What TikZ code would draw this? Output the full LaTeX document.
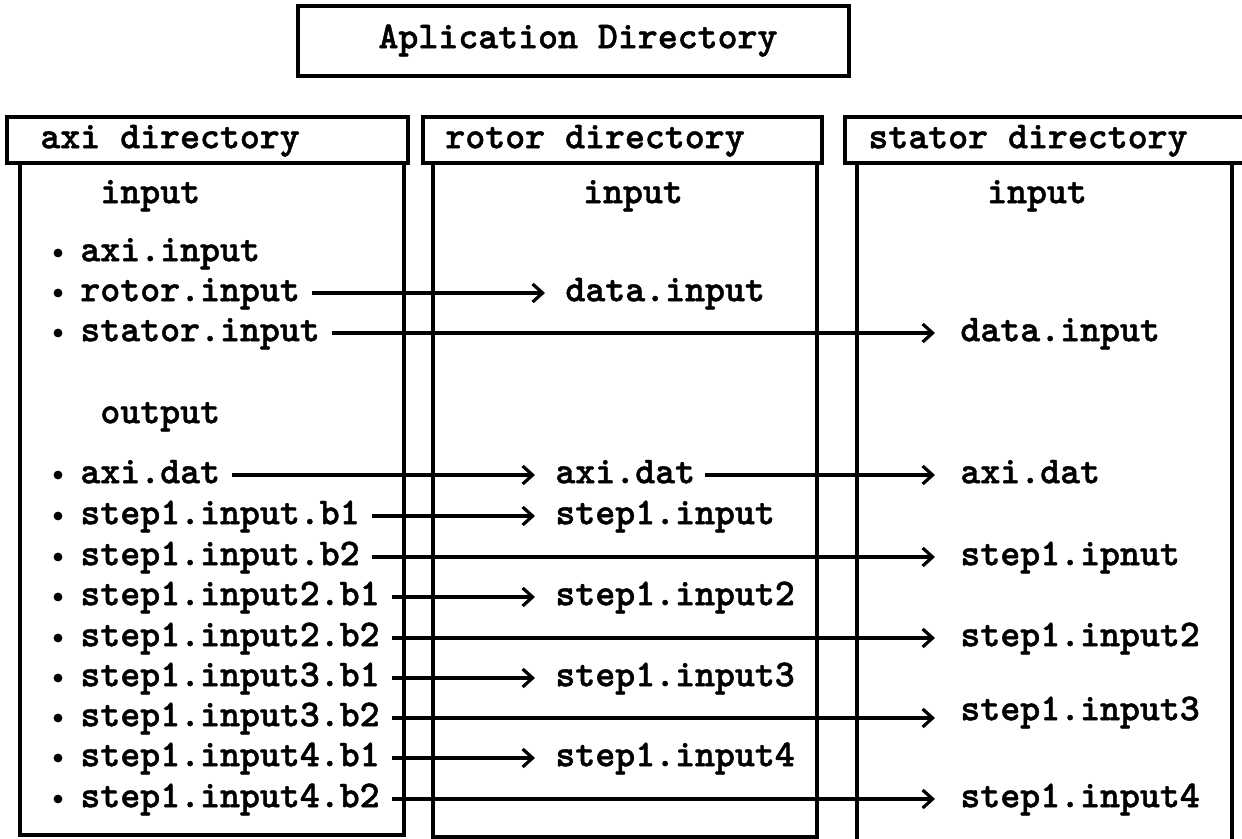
\documentclass[tikz,border=0pt]{standalone}
\usepackage{fontspec}
\newfontfamily\dirfont{lmmonolt10-bold.otf}[FakeBold=1.2]
\usetikzlibrary{arrows.meta}

\tikzset{
  dirbox/.style={line width=1.8pt},
  lbl/.style={anchor=west, inner sep=0pt, text height=8.2pt, text depth=0pt},
  srcitem/.style={lbl, inner xsep=6pt},
  rotitem/.style={lbl, inner xsep=10pt},
  staitem/.style={lbl, inner xsep=12.5pt},
  feed/.style={line width=1.6pt, -{Straight Barb[length=5pt,width=9pt]}}
}

\begin{document}
\begin{tikzpicture}[x=0.5pt,y=-0.5pt,font=\fontsize{19}{22}\selectfont\dirfont]

\useasboundingbox (0,0) rectangle (1242,839);

%% boxes
\draw[dirbox] (298,6) rectangle (849,76);
\draw[dirbox] (20,163) rectangle (404,835);
\draw[dirbox] (433,163) rectangle (817,837);
\draw[dirbox] (857,163) rectangle (1232,860);
\draw[dirbox] (7,117) rectangle (408,163);
\draw[dirbox] (423,117) rectangle (822,163);
\draw[dirbox] (845,117) rectangle (1250,163);

% titles
\node[lbl, anchor=center] (title) at (578,40) {Aplication Directory};
\node[lbl] (axihead) at (40,140) {axi directory};
\node[lbl] (rothead) at (445,140) {rotor directory};
\node[lbl] (stahead) at (868,140) {stator directory};

\node[lbl] (xinput) at (100,195) {input};
\node[lbl, anchor=center] (rinput) at (633,195) {input};
\node[lbl, anchor=center] (sinput) at (1037,195) {input};
\node[lbl] (xoutput) at (100,415) {output};

% nodes
\node[srcitem] (xin) at (68,253) {axi.input};
\node[srcitem] (xrot) at (68,293) {rotor.input};
\node[srcitem] (xsta) at (68,333) {stator.input};
\node[srcitem] (xdat) at (68,475) {axi.dat};
\node[srcitem] (xb11) at (68,516) {step1.input.b1};
\node[srcitem] (xb12) at (68,557) {step1.input.b2};
\node[srcitem] (xb21) at (68,597) {step1.input2.b1};
\node[srcitem] (xb22) at (68,638) {step1.input2.b2};
\node[srcitem] (xb31) at (68,678) {step1.input3.b1};
\node[srcitem] (xb32) at (68,718) {step1.input3.b2};
\node[srcitem] (xb41) at (68,758) {step1.input4.b1};
\node[srcitem] (xb42) at (68,799) {step1.input4.b2};

\node[rotitem] (rdata) at (545,293) {data.input};
\node[rotitem] (rdat) at (535,475) {axi.dat};
\node[rotitem] (r1) at (535,516) {step1.input};
\node[rotitem] (r2) at (535,597) {step1.input2};
\node[rotitem] (r3) at (535,678) {step1.input3};
\node[rotitem] (r4) at (535,758) {step1.input4};

\node[staitem] (sdata) at (935,333) {data.input};
\node[staitem] (sdat) at (935,475) {axi.dat};
\node[staitem] (s1) at (935,557) {step1.ipnut};
\node[staitem] (s2) at (935,638) {step1.input2};
\node[staitem] (s3) at (935,712) {step1.input3};
\node[staitem] (s4) at (935,799) {step1.input4};

\foreach \y in {253,293,333,475,516,557,597,638,678,718,758,799}
  \fill (58,\y) circle[radius=2.2pt];

%% arrows
\draw[feed] (xrot) -- (rdata);
\draw[feed] (xsta) -- (sdata);
\draw[feed] (xdat) -- (rdat);
\draw[feed, shorten <=-5pt] (rdat) -- (sdat);
\draw[feed] (xb11) -- (r1);
\draw[feed] (xb12) -- (s1);
\draw[feed] (xb21) -- (r2);
\draw[feed] (xb22) -- (s2);
\draw[feed] (xb31) -- (r3);
\draw[feed] (xb32.east) -- (xb32.east -| s3.west);
\draw[feed] (xb41) -- (r4);
\draw[feed] (xb42) -- (s4);

\end{tikzpicture}
\end{document}
